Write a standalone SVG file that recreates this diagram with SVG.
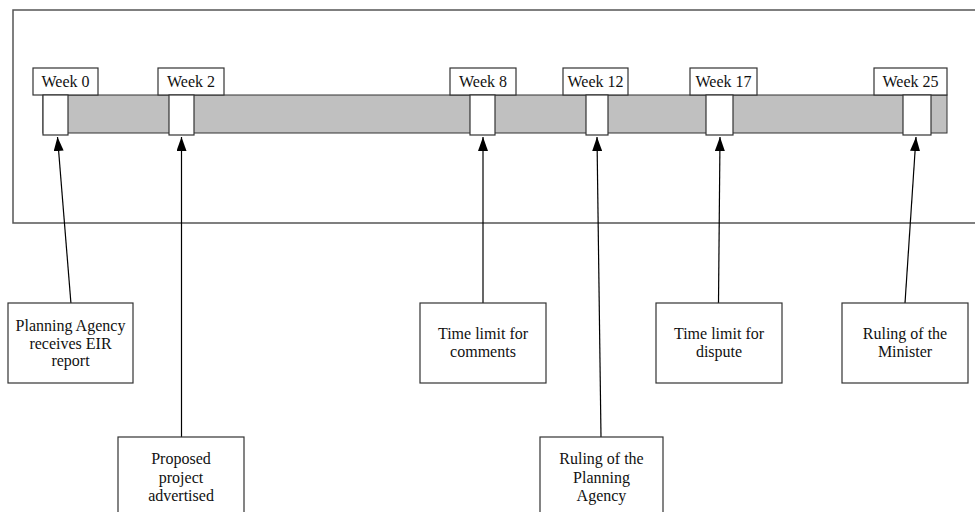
<svg xmlns="http://www.w3.org/2000/svg" width="975" height="512" viewBox="0 0 975 512">
  <defs>
    <marker id="arrow" viewBox="0 0 14 10" refX="14" refY="5" markerWidth="14" markerHeight="10" markerUnits="userSpaceOnUse" orient="auto">
      <path d="M0 0 L14 5 L0 10 Z" fill="#000"/>
    </marker>
    <style>
      .frame { fill: #fff; stroke: #555; stroke-width: 1.5; }
      .bar { fill: #c0c0c0; stroke: #333; stroke-width: 1; }
      .box { fill: #fff; stroke: #333; stroke-width: 1.2; }
      .lbl { font-family: "Liberation Serif", "Times New Roman", serif; font-size: 16px; fill: #111; text-anchor: middle; }
      .conn { stroke: #000; stroke-width: 1.2; fill: none; }
    </style>
  </defs>
  <rect width="975" height="512" fill="#fff"/>

  <!-- timeline frame -->
  <rect class="frame" x="13" y="10" width="975" height="213"/>

  <!-- timeline bar -->
  <rect class="bar" x="43" y="95" width="904" height="38"/>

  <!-- week markers -->
  <g id="week0">
    <rect class="box" x="33" y="68" width="65" height="27"/>
    <text class="lbl" x="65.5" y="87">Week 0</text>
    <rect class="box" x="43" y="95" width="25" height="40"/>
  </g>
  <g id="week2">
    <rect class="box" x="158" y="68" width="66" height="27"/>
    <text class="lbl" x="191" y="87">Week 2</text>
    <rect class="box" x="169" y="95" width="25" height="40"/>
  </g>
  <g id="week8">
    <rect class="box" x="450" y="68" width="66" height="27"/>
    <text class="lbl" x="483" y="87">Week 8</text>
    <rect class="box" x="470" y="95" width="25" height="40"/>
  </g>
  <g id="week12">
    <rect class="box" x="563" y="68" width="65" height="27"/>
    <text class="lbl" x="595.5" y="87">Week 12</text>
    <rect class="box" x="586" y="95" width="22" height="40"/>
  </g>
  <g id="week17">
    <rect class="box" x="690" y="68" width="67" height="27"/>
    <text class="lbl" x="723.5" y="87">Week 17</text>
    <rect class="box" x="706" y="95" width="27" height="40"/>
  </g>
  <g id="week25">
    <rect class="box" x="874" y="68" width="73" height="27"/>
    <text class="lbl" x="910.5" y="87">Week 25</text>
    <rect class="box" x="903" y="95" width="28" height="40"/>
  </g>

  <!-- connectors -->
  <g id="connectors">
    <line class="conn" x1="71" y1="304" x2="57.5" y2="137" marker-end="url(#arrow)"/>
    <line class="conn" x1="181.5" y1="437" x2="181.5" y2="137" marker-end="url(#arrow)"/>
    <line class="conn" x1="483" y1="303" x2="483" y2="137" marker-end="url(#arrow)"/>
    <line class="conn" x1="601" y1="437" x2="597" y2="137" marker-end="url(#arrow)"/>
    <line class="conn" x1="718.5" y1="303" x2="720" y2="137" marker-end="url(#arrow)"/>
    <line class="conn" x1="905" y1="303" x2="916" y2="137" marker-end="url(#arrow)"/>
  </g>

  <!-- event boxes -->
  <g id="eir-received">
    <rect class="box" x="8" y="303" width="125" height="80"/>
    <text class="lbl" x="70.5" y="331">Planning Agency</text>
    <text class="lbl" x="70.5" y="348.5">receives EIR</text>
    <text class="lbl" x="70.5" y="366">report</text>
  </g>
  <g id="project-advertised">
    <rect class="box" x="118" y="437" width="126" height="90"/>
    <text class="lbl" x="181" y="464">Proposed</text>
    <text class="lbl" x="181" y="482.5">project</text>
    <text class="lbl" x="181" y="501">advertised</text>
  </g>
  <g id="comments-limit">
    <rect class="box" x="420" y="303" width="126" height="80"/>
    <text class="lbl" x="483" y="339">Time limit for</text>
    <text class="lbl" x="483" y="357">comments</text>
  </g>
  <g id="agency-ruling">
    <rect class="box" x="540" y="437" width="123" height="90"/>
    <text class="lbl" x="601.5" y="464">Ruling of the</text>
    <text class="lbl" x="601.5" y="482.5">Planning</text>
    <text class="lbl" x="601.5" y="501">Agency</text>
  </g>
  <g id="dispute-limit">
    <rect class="box" x="656" y="303" width="126" height="80"/>
    <text class="lbl" x="719" y="339">Time limit for</text>
    <text class="lbl" x="719" y="357">dispute</text>
  </g>
  <g id="minister-ruling">
    <rect class="box" x="842" y="303" width="126" height="80"/>
    <text class="lbl" x="905" y="339">Ruling of the</text>
    <text class="lbl" x="905" y="357">Minister</text>
  </g>
</svg>
